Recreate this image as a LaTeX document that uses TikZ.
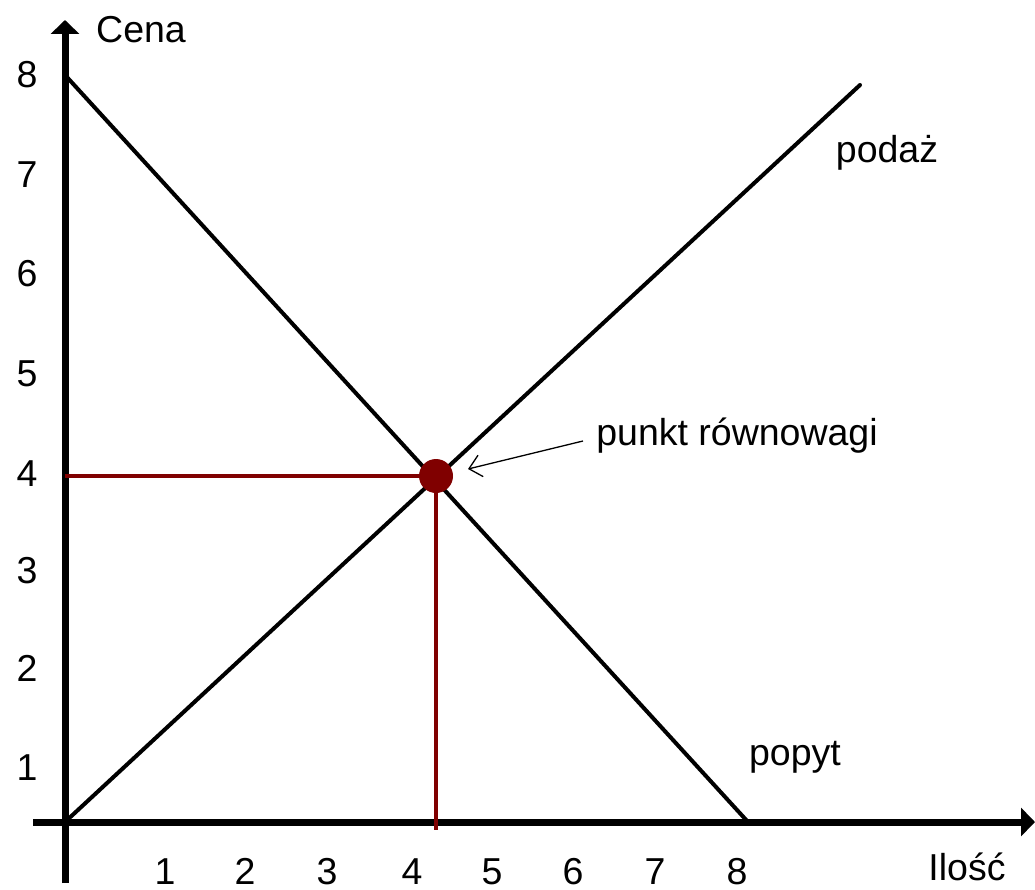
\documentclass[tikz,border=0pt]{standalone}
\usepackage{fontspec}
\setmainfont{Liberation Sans}
\usepackage{xcolor}
\usetikzlibrary{arrows.meta}
\definecolor{eqred}{HTML}{800000}

\begin{document}
\begin{tikzpicture}[x=1pt,y=-1pt,font=\fontsize{37.5}{42}\selectfont,
  axis/.style={line width=7pt,-{Triangle[length=14pt,width=28pt]}},
  curve/.style={line width=4pt,line cap=round},
  guide/.style={eqred,line width=3.5pt},
  lab/.style={anchor=base,inner sep=0pt}]
  \useasboundingbox (0,0) rectangle (1035,890);
  % axes
  \coordinate (O) at (65,822);
  \coordinate (ybot) at (65,883);
  \coordinate (ytop) at (65,20);
  \coordinate (xleft) at (33,822);
  \coordinate (xright) at (1035,822);
  \draw[axis] (ybot) -- (ytop);
  \draw[axis] (xleft) -- (xright);
  \node[lab] (cena) at (141,43) {Cena};
  \node[lab] (ilosc) at (967,880) {Ilość};
  \foreach \v/\py in {1/780,2/681,3/583,4/486,5/386,6/287,7/188,8/88}{
    \node[lab] (ylab\v) at (27,\py) {\v};}
  \foreach \v/\px in {1/165,2/245,3/327,4/412,5/492,6/573,7/655,8/737}{
    \node[lab] (xlab\v) at (\px,884) {\v};}
  % demand and supply
  \coordinate (dtop) at (65,75);
  \coordinate (dend) at (748,822);
  \coordinate (send) at (860,85);
  \draw[curve] (dtop) -- (dend);
  \draw[curve] (O) -- (send);
  \node[lab] (popyt) at (795,765) {popyt};
  \node[lab] (podaz) at (887,163) {podaż};
  % equilibrium
  \coordinate (eqc) at (436,476);
  \coordinate (qbot) at (436,830);
  \draw[guide] (eqc) -- (eqc -| O);
  \draw[guide] (eqc) -- (qbot);
  \node[circle,fill=eqred,minimum size=34pt,inner sep=0pt] (eq) at (eqc) {};
  \node[lab] (eqlab) at (737,445) {punkt równowagi};
  \coordinate (eqtail) at (583,441);
  \coordinate (eqtip) at (468,469);
  \draw[line width=1.3pt,-{Straight Barb[length=12pt,width=22pt]}] (eqtail) -- (eqtip);
\end{tikzpicture}
\end{document}
